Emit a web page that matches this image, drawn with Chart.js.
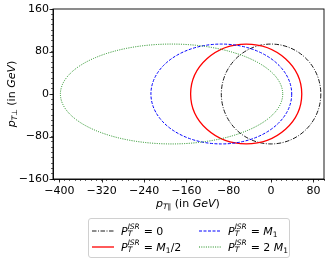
<!DOCTYPE html>
<html>
<head>
<meta charset="utf-8">
<script src="https://cdn.jsdelivr.net/npm/chart.js@4.4.1/dist/chart.umd.min.js"></script>
<style>
  html, body { margin: 0; padding: 0; background: #fff; }
  #wrap { position: relative; width: 333px; height: 264px; font-family: "DejaVu Sans", sans-serif; color: #000; }
  #c { position: absolute; left: 0; top: 0; }
  .ttl { position: absolute; font-size: 11px; line-height: 1; white-space: nowrap; color: #000; }
  .it { font-style: italic; }
  .sb7 { font-size: 7.5px; position: relative; top: 2px; }
  .legend { position: absolute; left: 88px; top: 218px; width: 202px; height: 40px; border: 1px solid #d0d0d0; border-radius: 3px; box-sizing: border-box; }
  .item { position: absolute; font-size: 11px; line-height: 1; white-space: nowrap; }
  .item svg { position: absolute; left: 0; top: 0; }
  .item .txt { position: absolute; left: 29px; top: -6px; }
  .ss { display: inline-block; position: relative; width: 15px; height: 10px; margin-right: 1px; }
  .ss .sp { position: absolute; left: 0; top: -2px; font-size: 7.5px; line-height: 1; font-style: italic; }
  .ss .sb { position: absolute; left: 0; top: 5px; font-size: 7.5px; line-height: 1; font-style: italic; }
</style>
</head>
<body>
<div id="wrap">
  <canvas id="c" width="333" height="264"></canvas>
  <div class="ttl" id="xt" style="left:156px; top:198px;"><span class="it">p</span><span class="sb7 it">T∥</span> (in <span class="it">GeV</span>)</div>
  <div class="ttl" id="yt" style="left:-28px; top:88px; width:80px; height:12px; text-align:center; transform: rotate(-90deg); transform-origin: 50% 50%;"><span class="it">p</span><span class="sb7 it">T⊥</span> (in <span class="it">GeV</span>)</div>
  <div class="legend" id="lg"></div>
</div>
<script>
// --- data (ellipse centre on x, half width, half height, all in GeV) ---
const seriesNames = ['0', 'M1/2', 'M1', '2 M1'];
const centerX = [0, -47, -94, -188];
const centerY = [0, 0, 0, 0];
const halfWidth = [94, 105, 133, 210];
const halfHeight = [94, 94, 94, 94];

const xMajorTicks = [-400, -320, -240, -160, -80, 0, 80];
const yMajorTicks = [-160, -80, 0, 80, 160];
const X_MIN = -412, X_MAX = 100;
const Y_MIN = -160, Y_MAX = 160;

// line styles per series
const styles = [
  { color: '#000000', dash: [4.5, 1.5, 1, 1.5], width: 0.9 },
  { color: '#ff0000', dash: [], width: 1.3 },
  { color: '#0000ff', dash: [3, 1.5], width: 1 },
  { color: '#008000', dash: [1, 1.3], width: 0.9 }
];

// legend text (html, for the sub/superscripts)
const PT = '<span class="it">P</span><span class="ss"><span class="sp">ISR</span><span class="sb">T</span></span>';
const legendHtml = [
  PT + '= 0',
  PT + '= <span class="it">M</span><span class="sb7">1</span>/2',
  PT + '= <span class="it">M</span><span class="sb7">1</span>',
  PT + '= 2 <span class="it">M</span><span class="sb7">1</span>'
];
// col 1 = series 0,1 ; col 2 = series 2,3
const legendPos = [[92, 231], [92, 247], [199, 231], [199, 247]];

function fmt(v) {
  return v < 0 ? '\u2212' + Math.abs(v) : String(v);
}

// draws each ellipse through the chart scales
const ellipsePlugin = {
  id: 'ellipses',
  afterDatasetsDraw(chart) {
    const { ctx, chartArea: a, scales: { x, y } } = chart;
    ctx.save();
    ctx.beginPath();
    ctx.rect(a.left, a.top, a.right - a.left, a.bottom - a.top);
    ctx.clip();
    centerX.forEach((cx, i) => {
      const px = x.getPixelForValue(cx);
      const py = y.getPixelForValue(centerY[i]);
      const rx = Math.abs(x.getPixelForValue(cx + halfWidth[i]) - px);
      const ry = Math.abs(y.getPixelForValue(centerY[i] + halfHeight[i]) - py);
      const s = styles[i];
      ctx.beginPath();
      ctx.strokeStyle = s.color;
      ctx.lineWidth = s.width;
      ctx.setLineDash(s.dash);
      ctx.ellipse(px, py, rx, ry, 0, 0, Math.PI * 2);
      ctx.stroke();
    });
    ctx.restore();
  },
  afterDraw(chart) {
    const { ctx, chartArea: a, scales: { x, y } } = chart;
    ctx.save();
    ctx.strokeStyle = '#000';
    ctx.lineWidth = 0.9;
    ctx.strokeRect(a.left, a.top, a.right - a.left, a.bottom - a.top);
    // longer major ticks
    ctx.beginPath();
    xMajorTicks.forEach(v => {
      const p = Math.round(x.getPixelForValue(v)) + 0.5;
      ctx.moveTo(p, a.bottom);
      ctx.lineTo(p, a.bottom + 3.5);
    });
    yMajorTicks.forEach(v => {
      const p = Math.round(y.getPixelForValue(v)) + 0.5;
      ctx.moveTo(a.left, p);
      ctx.lineTo(a.left - 3.5, p);
    });
    ctx.lineWidth = 0.8;
    ctx.stroke();
    ctx.restore();
  }
};

const tickFont = { family: 'DejaVu Sans', size: 11 };

new Chart(document.getElementById('c'), {
  type: 'scatter',
  data: { datasets: [] },
  options: {
    responsive: false,
    animation: false,
    layout: { padding: { left: 0, top: 9, right: 9, bottom: 64 } },
    plugins: { legend: { display: false }, tooltip: { enabled: false } },
    scales: {
      x: {
        type: 'linear', min: X_MIN, max: X_MAX,
        afterFit: s => { s.height = 21; },
        ticks: {
          stepSize: 10, includeBounds: false, autoSkip: false, maxRotation: 0, padding: 4,
          font: tickFont, color: '#000',
          callback: v => xMajorTicks.includes(v) ? fmt(v) : ''
        },
        grid: { drawOnChartArea: false, tickLength: 2, tickColor: '#000', tickWidth: 0.6 },
        border: { display: true, color: '#000', width: 0.9 }
      },
      y: {
        type: 'linear', min: Y_MIN, max: Y_MAX,
        afterFit: s => { s.width = 53; },
        ticks: {
          stepSize: 10, includeBounds: false, autoSkip: false, padding: 2,
          font: tickFont, color: '#000',
          callback: v => yMajorTicks.includes(v) ? fmt(v) : ''
        },
        grid: { drawOnChartArea: false, tickLength: 2, tickColor: '#000', tickWidth: 0.6 },
        border: { display: true, color: '#000', width: 0.9 }
      }
    }
  },
  plugins: [ellipsePlugin]
});

// legend
const wrap = document.getElementById('wrap');
legendHtml.forEach((h, i) => {
  const s = styles[i];
  const d = document.createElement('div');
  d.className = 'item';
  d.style.left = legendPos[i][0] + 'px';
  d.style.top = legendPos[i][1] + 'px';
  d.innerHTML = `<svg width="22" height="2" style="top:-1px"><line x1="0" y1="1" x2="22" y2="1" stroke="${s.color}" stroke-width="${s.width}" stroke-dasharray="${s.dash.join(' ') || 'none'}"/></svg><span class="txt">${h}</span>`;
  wrap.appendChild(d);
});
</script>
</body>
</html>
